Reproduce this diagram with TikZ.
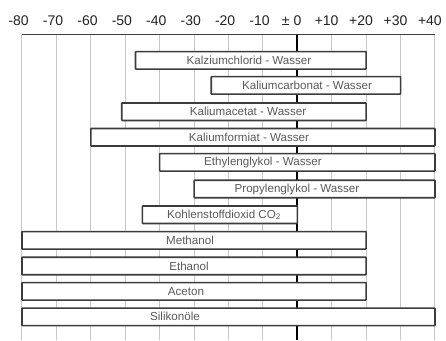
\documentclass[tikz,border=0pt]{standalone}
\usepackage{fontspec}
\setmainfont{Liberation Sans}
\definecolor{gridgray}{HTML}{C8C8C8}
\definecolor{barline}{HTML}{3C3C3C}
\definecolor{bartextc}{HTML}{5A5A5A}
\definecolor{axistext}{HTML}{222222}
\begin{document}
\begin{tikzpicture}[x=1pt,y=-1pt,
  gridline/.style={draw=gridgray,line width=1pt},
  zeroline/.style={draw=black,line width=2pt},
  axisline/.style={draw=barline,line width=1.5pt},
  barbox/.style={draw=barline,fill=white,line width=1.6pt,rounded corners=0.6pt,inner sep=0pt,minimum height=17.5pt},
  bartext/.style={text=bartextc,font=\fontsize{11.6}{13}\selectfont,inner sep=0pt},
  ticklabel/.style={text=axistext,font=\fontsize{14}{16}\selectfont,inner sep=0pt,anchor=base east}]
\useasboundingbox (0,0) rectangle (446,340);
% grid
\foreach \d in {-80,-70,...,40}{
  \coordinate (gt\d) at ({297.3+3.4417*\d},34.3);
  \coordinate (gb\d) at ({297.3+3.4417*\d},340);
  \draw[gridline] (gt\d) -- (gb\d);
}
\draw[zeroline] (gt0) -- (gb0);
\draw[axisline] (gt-80) -- (gt40);
% tick labels
\foreach \d/\l in {-80/-80,-70/-70,-60/-60,-50/-50,-40/-40,-30/-30,-20/-20,-10/-10,10/+10,20/+20,30/+30,40/+40}{
  \node[ticklabel] (tl\d) at ({297.3+3.4417*\d+7},25) {\l};
}
\node[ticklabel] (tl0) at (301.5,25) {± 0};
% bars
\foreach \n/\a/\b/\y/\tx/\t in {
  1/-47/20/60.3/249/{Kalziumchlorid - Wasser},
  2/-25/30/85.3/307/{Kaliumcarbonat - Wasser},
  3/-51/20/111.7/248/{Kaliumacetat - Wasser},
  4/-60/40/137.2/249/{Kaliumformiat - Wasser},
  5/-40/40/162.3/263/{Ethylenglykol - Wasser},
  6/-30/40/189/297/{Propylenglykol - Wasser},
  7/-45/0/214.7/224/{Kohlenstoffdioxid CO\textsubscript{2}},
  8/-80/20/240.3/190/{Methanol},
  9/-80/20/266/189/{Ethanol},
  10/-80/20/291.3/186/{Aceton},
  11/-80/40/316.8/175/{Silikonöle}}{
  \node[barbox,minimum width={((\b)-(\a))*3.4417pt}] (bar\n) at ({297.3+3.4417*((\a)+(\b))/2},\y) {};
  \node[bartext] (lab\n) at (\tx,\y) {\t};
}
\end{tikzpicture}
\end{document}
